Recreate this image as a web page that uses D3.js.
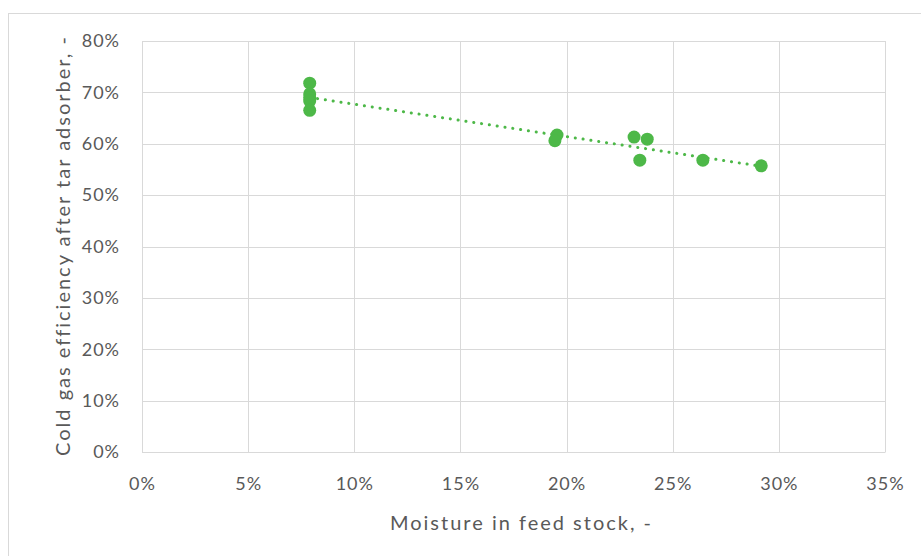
<!DOCTYPE html>
<html>
<head>
<meta charset="utf-8">
<script src="https://cdn.jsdelivr.net/npm/d3@7"></script>
<style>
  html, body { margin: 0; padding: 0; background: #fff; }
  svg { display: block; }
  text { font-family: Lato, "Open Sans", "Liberation Sans", sans-serif; fill: #595959; }
</style>
</head>
<body>
<script>
// Data (moisture fraction, cold gas efficiency fraction)
const moisture   = [0.079, 0.079, 0.079, 0.079, 0.079, 0.1955, 0.1945, 0.2318, 0.238, 0.2345, 0.2642, 0.2917];
const efficiency = [0.718, 0.697, 0.690, 0.683, 0.665, 0.617, 0.606, 0.613, 0.609, 0.568, 0.568, 0.557];
const xTicks = [0, 0.05, 0.10, 0.15, 0.20, 0.25, 0.30, 0.35];
const yTicks = [0, 0.1, 0.2, 0.3, 0.4, 0.5, 0.6, 0.7, 0.8];
const xTitle = "Moisture in feed stock, -";
const yTitle = "Cold gas efficiency after tar adsorber, -";

const W = 921, H = 556;
const plot = { left: 142, top: 41, right: 885, bottom: 452 };
const green = "#4DB848";
const gridColor = "#d9d9d9";

const svg = d3.select("body").append("svg").attr("width", W).attr("height", H);

// outer chart border
svg.append("rect").attr("x", 8.5).attr("y", 13.5).attr("width", W - 8).attr("height", H - 13)
  .attr("fill", "none").attr("stroke", gridColor).attr("stroke-width", 1);

const x = d3.scaleLinear().domain([0, 0.35]).range([plot.left, plot.right]);
const y = d3.scaleLinear().domain([0, 0.8]).range([plot.bottom, plot.top]);
const fmt = d3.format(".0%");

// gridlines
const g = svg.append("g");
g.selectAll("line.vg").data(xTicks).join("line")
  .attr("x1", d => Math.round(x(d)) + 0.5).attr("x2", d => Math.round(x(d)) + 0.5)
  .attr("y1", plot.top).attr("y2", plot.bottom)
  .attr("stroke", gridColor).attr("stroke-width", 1);
g.selectAll("line.hg").data(yTicks).join("line")
  .attr("y1", d => Math.round(y(d)) + 0.5).attr("y2", d => Math.round(y(d)) + 0.5)
  .attr("x1", plot.left).attr("x2", plot.right)
  .attr("stroke", gridColor).attr("stroke-width", 1);

// axes via d3 axis (tick labels only)
const xAxis = svg.append("g").attr("transform", `translate(0,${plot.bottom})`)
  .call(d3.axisBottom(x).tickValues(xTicks).tickFormat(fmt).tickSize(0).tickPadding(25));
xAxis.select(".domain").attr("stroke", gridColor);
xAxis.selectAll("text").style("font-size", "18px").style("letter-spacing", "1px").attr("fill", "#595959");

const yAxis = svg.append("g").attr("transform", `translate(${plot.left},0)`)
  .call(d3.axisLeft(y).tickValues(yTicks).tickFormat(fmt).tickSize(0).tickPadding(22));
yAxis.select(".domain").attr("stroke", gridColor);
yAxis.selectAll("text").style("font-size", "18px").style("letter-spacing", "1px").attr("fill", "#595959");

// trendline (least squares)
const n = moisture.length;
const mx = d3.mean(moisture), my = d3.mean(efficiency);
let sxy = 0, sxx = 0;
for (let i = 0; i < n; i++) { sxy += (moisture[i] - mx) * (efficiency[i] - my); sxx += (moisture[i] - mx) ** 2; }
const slope = sxy / sxx, intercept = my - slope * mx;
const [x0, x1] = d3.extent(moisture);
svg.append("line")
  .attr("x1", x(x0)).attr("y1", y(intercept + slope * x0))
  .attr("x2", x(x1)).attr("y2", y(intercept + slope * x1))
  .attr("stroke", green).attr("stroke-width", 3)
  .attr("stroke-dasharray", "0.1 7.8").attr("stroke-linecap", "round");

// points
svg.append("g").selectAll("circle").data(d3.range(n)).join("circle")
  .attr("cx", i => x(moisture[i])).attr("cy", i => y(efficiency[i]))
  .attr("r", 6.5).attr("fill", green);

// titles
svg.append("text").attr("x", (plot.left + plot.right) / 2 + 8).attr("y", 530)
  .attr("text-anchor", "middle").style("font-size", "20px").style("letter-spacing", "2px").text(xTitle);
svg.append("text")
  .attr("transform", `translate(70,${(plot.top + plot.bottom) / 2 - 1}) rotate(-90)`)
  .attr("text-anchor", "middle").style("font-size", "20px").style("letter-spacing", "2px").text(yTitle);
</script>
</body>
</html>
